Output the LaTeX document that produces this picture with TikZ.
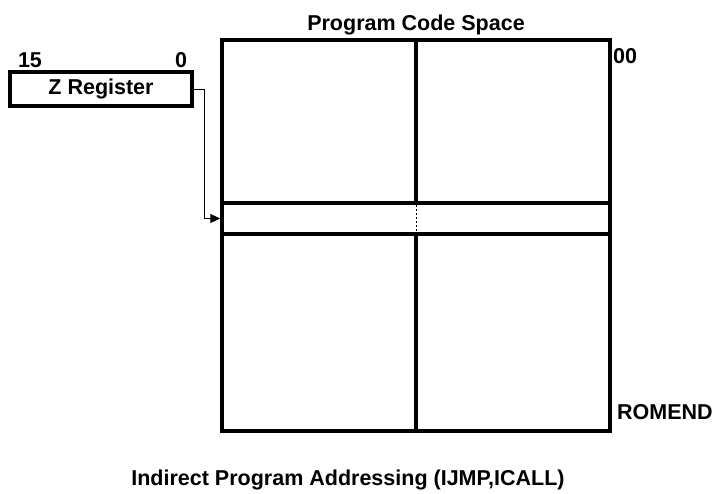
\documentclass[tikz,border=0pt]{standalone}
\usepackage{fontspec}
\setmainfont{Liberation Sans}
\usetikzlibrary{arrows.meta}
\begin{document}
\begin{tikzpicture}[x=1pt,y=-1pt,
  lbl/.style={inner sep=0pt, font=\fontsize{21.5}{25}\selectfont\bfseries},
  thickbox/.style={draw, line width=3.5pt, inner sep=0pt},
  conn/.style={line width=1pt, -{Triangle[length=10pt,width=9pt]}}]
\useasboundingbox (0,0) rectangle (714,493);
% title
\node[lbl, anchor=base] (title) at (416,30) {Program Code Space};
% Z register
\node[thickbox, lbl, minimum width=182pt, minimum height=34pt] (zreg) at (101,89) {Z Register};
\node[lbl, anchor=base] (b15) at (30,67) {15};
\node[lbl, anchor=base] (b0) at (181,67) {0};
% memory
\node[thickbox, minimum width=388pt, minimum height=391pt] (mem) at (416,235.5) {};
\node[thickbox, minimum width=388pt, minimum height=31pt] (band) at (416,218.5) {};
\draw[line width=3.5pt] (mem.north) -- (band.north);
\draw[line width=3.5pt] (band.south) -- (mem.south);
\draw[line width=0.8pt, dash pattern=on 2pt off 2pt] (band.north) -- (band.south);
\node[lbl, anchor=base west] (top) at (613,63) {00};
\node[lbl, anchor=base west] (romend) at (617,419) {ROMEND};
% connector
\coordinate (bend) at (204,89);
\draw[conn] (zreg.east) -- (bend) |- (band.west);
% caption
\node[lbl, anchor=base] (caption) at (348,485) {Indirect Program Addressing (IJMP,ICALL)};
\end{tikzpicture}
\end{document}
